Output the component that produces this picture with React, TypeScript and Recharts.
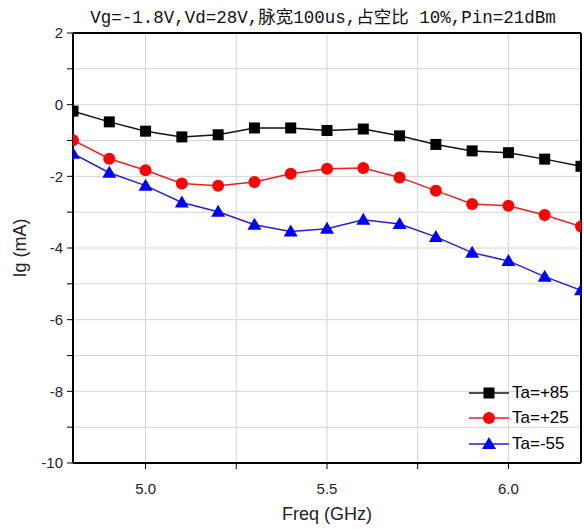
import React from 'react';
import { LineChart, Line, XAxis, YAxis, CartesianGrid, ReferenceLine, Label } from 'recharts';

const freq = [4.8, 4.9, 5.0, 5.1, 5.2, 5.3, 5.4, 5.5, 5.6, 5.7, 5.8, 5.9, 6.0, 6.1, 6.2];
const ta85 = [-0.18, -0.48, -0.74, -0.9, -0.84, -0.65, -0.65, -0.72, -0.68, -0.87, -1.11, -1.29, -1.34, -1.52, -1.72];
const ta25 = [-0.99, -1.51, -1.83, -2.2, -2.26, -2.16, -1.93, -1.79, -1.77, -2.03, -2.4, -2.77, -2.82, -3.08, -3.4];
const taM55 = [-1.37, -1.9, -2.26, -2.73, -2.99, -3.35, -3.54, -3.46, -3.21, -3.33, -3.69, -4.13, -4.36, -4.8, -5.18];

const xTicks = [5.0, 5.25, 5.5, 5.75, 6.0];
const xLabels = ['5.0', '5.5', '6.0'];
const yTicks = [-10, -9, -8, -7, -6, -5, -4, -3, -2, -1, 0, 1, 2];

const title = 'Vg=-1.8V,Vd=28V,脉宽100us,占空比 10%,Pin=21dBm';

const series = [
    { key: 'ta85', name: 'Ta=+85', color: '#000000', line: '#111111', shape: 'square' },
    { key: 'ta25', name: 'Ta=+25', color: '#ff0000', line: '#ee2020', shape: 'circle' },
    { key: 'taM55', name: 'Ta=-55', color: '#0000ff', line: '#2020dd', shape: 'triangle' },
];

const data = freq.map((f, i) => ({ f, ta85: ta85[i], ta25: ta25[i], taM55: taM55[i] }));

const Marker = ({ shape, x, y, color }: { shape: string; x: number; y: number; color: string }) => {
    if (shape === 'square') return <rect x={x - 5.5} y={y - 5.5} width={11} height={11} fill={color} />;
    if (shape === 'circle') return <circle cx={x} cy={y} r={6} fill={color} />;
    return <path d={`M${x},${y - 7} L${x + 7},${y + 5} L${x - 7},${y + 5} Z`} fill={color} />;
};

const makeDot = (shape: string, color: string) => (props: any) => {
    const { cx, cy, index } = props;
    if (cx == null || cy == null) return <g key={`d-${index}`} />;
    return <Marker key={`d-${shape}-${index}`} shape={shape} x={cx} y={cy} color={color} />;
};

const font = 'Liberation Sans, Arial, sans-serif';

export default function App() {
    return (
        <div style={{ position: 'absolute', left: 0, top: 0, width: 584, height: 529, background: '#fff' }}>
            <div
                style={{
                    position: 'absolute',
                    left: 0,
                    width: 584,
                    top: 3,
                    textAlign: 'center',
                    paddingLeft: 62,
                    boxSizing: 'border-box',
                    fontFamily: '"Liberation Mono", "Noto Sans CJK SC", monospace',
                    fontSize: 17.5,
                    color: '#111',
                    whiteSpace: 'nowrap',
                }}
            >
                {title}
            </div>
            <LineChart width={584} height={529} data={data} margin={{ top: 33, right: 3, bottom: 0, left: 0 }}>
                <CartesianGrid stroke="#d4d4d4" strokeWidth={1} />
                <XAxis
                    dataKey="f"
                    type="number"
                    domain={[4.8, 6.2]}
                    ticks={xTicks}
                    allowDataOverflow
                    height={66}
                    tickSize={6}
                    tickMargin={14}
                    stroke="#000"
                    axisLine={{ stroke: '#000', strokeWidth: 2 }}
                    tick={{ fill: '#222', fontSize: 15, fontFamily: font }}
                    tickFormatter={(v: number) => (xLabels.includes(v.toFixed(1)) && Math.abs(v * 2 - Math.round(v * 2)) < 1e-6 ? v.toFixed(1) : '')}
                >
                    <Label value="Freq (GHz)" position="insideBottom" offset={9} style={{ fill: '#222', fontSize: 18, fontFamily: font }} />
                </XAxis>
                <YAxis
                    type="number"
                    domain={[-10, 2]}
                    ticks={yTicks}
                    interval={0}
                    width={73}
                    tickSize={6}
                    tickMargin={4}
                    stroke="#000"
                    axisLine={{ stroke: '#000', strokeWidth: 2 }}
                    tick={{ fill: '#222', fontSize: 15, fontFamily: font }}
                    tickFormatter={(v: number) => (v % 2 === 0 ? String(v) : '')}
                >
                    <Label value="Ig (mA)" angle={-90} position="insideLeft" offset={20} style={{ fill: '#222', fontSize: 18, fontFamily: font, textAnchor: 'middle' }} />
                </YAxis>
                <ReferenceLine y={2} stroke="#000" strokeWidth={2} />
                <ReferenceLine x={6.2} stroke="#000" strokeWidth={2} />
                {series.map((s) => (
                    <Line
                        key={s.key}
                        dataKey={s.key}
                        name={s.name}
                        stroke={s.line}
                        strokeWidth={1.5}
                        dot={makeDot(s.shape, s.color)}
                        activeDot={false}
                        isAnimationActive={false}
                    />
                ))}
            </LineChart>
            <div style={{ position: 'absolute', left: 467, top: 380, fontFamily: font, fontSize: 17 }}>
                {series.map((s) => (
                    <div key={s.key} style={{ display: 'flex', alignItems: 'center', height: 25.5 }}>
                        <svg width={44} height={20}>
                            <line x1={2} y1={10} x2={42} y2={10} stroke={s.line} strokeWidth={1.5} />
                            <Marker shape={s.shape} x={22} y={10} color={s.color} />
                        </svg>
                        <span style={{ marginLeft: 1, color: '#000' }}>{s.name}</span>
                    </div>
                ))}
            </div>
        </div>
    );
}
